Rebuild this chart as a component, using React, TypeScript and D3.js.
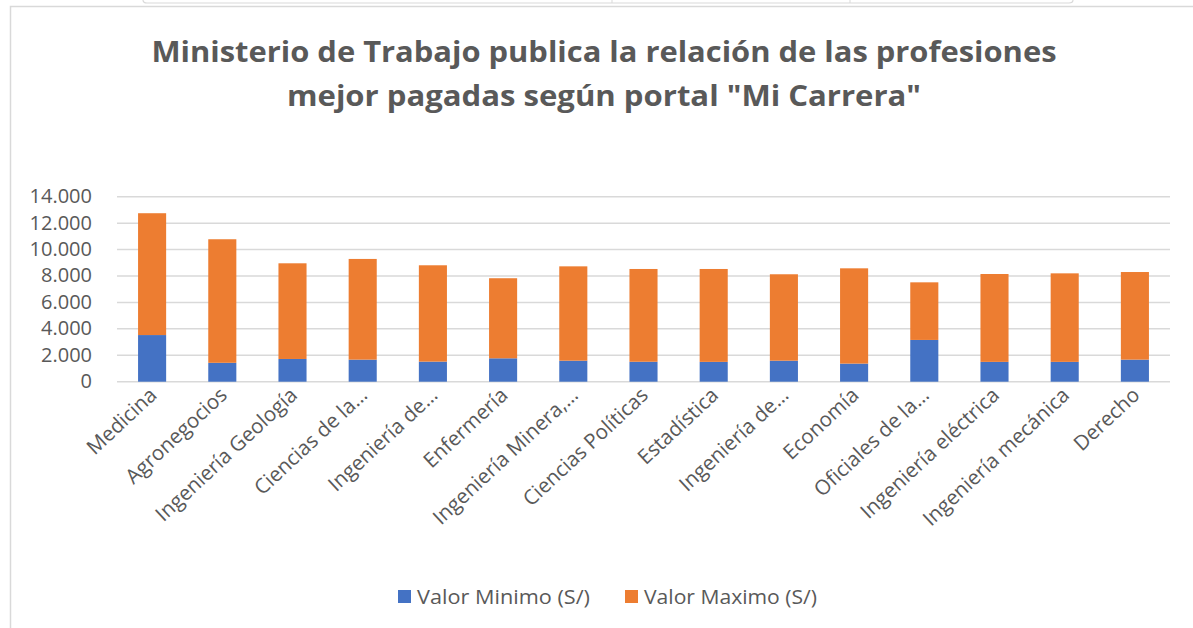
import React from "react";
import * as d3 from "d3";

const categories = [
  "Medicina",
  "Agronegocios",
  "Ingeniería Geología",
  "Ciencias de la…",
  "Ingeniería de…",
  "Enfermería",
  "Ingeniería Minera,…",
  "Ciencias Políticas",
  "Estadística",
  "Ingeniería de…",
  "Economía",
  "Oficiales de la…",
  "Ingeniería eléctrica",
  "Ingeniería mecánica",
  "Derecho",
];
const valorMinimo = [3530, 1430, 1720, 1670, 1520, 1770, 1590, 1510, 1500, 1590, 1370, 3160, 1500, 1500, 1670];
const valorMaximo = [9220, 9350, 7240, 7620, 7290, 6060, 7140, 7020, 7030, 6540, 7210, 4360, 6650, 6700, 6630];
const yTicks = [0, 2000, 4000, 6000, 8000, 10000, 12000, 14000];
const seriesNames = ["Valor Minimo (S/)", "Valor Maximo (S/)"];
const colors = ["#4472C4", "#ED7D31"];

const W = 1193;
const H = 628;
const plotL = 117;
const plotR = 1170;
const plotT = 196.7;
const plotB = 381.7;

const fmt = (v: number) => (v === 0 ? "0" : d3.format(",")(v).replace(/,/g, "."));

export default function App() {
  const x = d3.scaleBand<string>().domain(categories.map((_, i) => String(i))).range([plotL, plotR]).paddingInner(0.6).paddingOuter(0.3);
  const y = d3.scaleLinear().domain([0, 14000]).range([plotB, plotT]);
  const rows = categories.map((c, i) => ({ key: String(i), min: valorMinimo[i], max: valorMaximo[i] }));
  const stack = d3.stack<any>().keys(["min", "max"])(rows);
  const textColor = "#595959";
  const font = "'Open Sans', sans-serif";

  return (
    <div style={{ position: "absolute", left: 0, top: 0, width: W, height: H, background: "#fff" }}>
      <svg width={W} height={H} style={{ display: "block" }} fontFamily={font}>
        <rect x={0} y={0} width={W} height={H} fill="#fff" />
        {/* top strip remnant */}
        <path d="M143,-4 L143,0 Q143,3 147,3 L1069,3 Q1073,3 1073,0 L1073,-4" fill="none" stroke="#d9d9d9" strokeWidth={1.2} />
        <line x1={612} y1={0} x2={612} y2={3} stroke="#d9d9d9" />
        <line x1={850} y1={0} x2={850} y2={3} stroke="#d9d9d9" />
        {/* chart frame */}
        <path d={`M10.5,${H} L10.5,6.5 L${W},6.5`} fill="none" stroke="#d9d9d9" strokeWidth={1.5} />

        <text textAnchor="middle" fill={textColor} fontWeight={700} fontSize={28}>
          <tspan x={604} y={62} textLength={905} lengthAdjust="spacingAndGlyphs">Ministerio de Trabajo publica la relación de las profesiones</tspan>
          <tspan x={604} y={106} textLength={634} lengthAdjust="spacingAndGlyphs">mejor pagadas según portal "Mi Carrera"</tspan>
        </text>

        {yTicks.map((t) => (
          <g key={t}>
            <line x1={plotL} x2={plotR} y1={y(t)} y2={y(t)} stroke="#d9d9d9" strokeWidth={1.5} />
            <text x={92} y={y(t) + 6.5} textAnchor="end" fontSize={20} fill={textColor}>
              {fmt(t)}
            </text>
          </g>
        ))}

        {stack.map((s, si) => (
          <g key={si} fill={colors[si]}>
            {s.map((d: any, i: number) => (
              <rect
                key={i}
                x={x(String(i))!}
                width={x.bandwidth()}
                y={y(d[1])}
                height={y(d[0]) - y(d[1])}
              />
            ))}
          </g>
        ))}

        {categories.map((c, i) => {
          const cx = x(String(i))! + x.bandwidth() / 2;
          return (
            <text
              key={i}
              transform={`translate(${cx + 6},${plotB + 15}) rotate(-43)`}
              textAnchor="end"
              fontSize={20.5}
              fill={textColor}
            >
              {c}
            </text>
          );
        })}

        {seriesNames.map((n, i) => {
          const lx = i === 0 ? 398 : 625;
          return (
            <g key={n}>
              <rect x={lx} y={590} width={13} height={13} fill={colors[i]} />
              <text x={lx + 19} y={604} fontSize={20} fill={textColor} textLength={173} lengthAdjust="spacingAndGlyphs">
                {n}
              </text>
            </g>
          );
        })}
      </svg>
    </div>
  );
}
